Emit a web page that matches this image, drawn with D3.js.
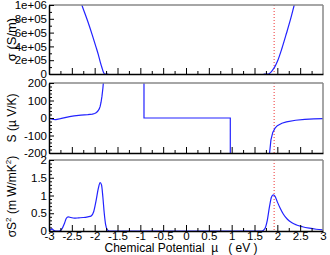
<!DOCTYPE html>
<html>
<head>
<meta charset="utf-8">
<script src="https://cdn.jsdelivr.net/npm/d3@7"></script>
<style>
  body { margin: 0; background: #fff; }
  svg text { font-family: "Liberation Sans", Arial, sans-serif; }
</style>
</head>
<body>
<div id="chart"></div>
<script>
// chemical potential positions (eV) for each panel curve
var sigmaLeftMu  = [-2.40, -2.28, -2.15, -2.05, -1.97, -1.92, -1.88, -1.84, -1.81, -1.78, -1.70];
var sigmaLeftVal = [1.25e6, 1.0e6, 7.6e5, 5.6e5, 3.9e5, 2.8e5, 1.8e5, 9e4, 3e4, 0, 0];
var sigmaRightMu  = [1.70, 1.80, 1.85, 1.90, 1.95, 2.00, 2.10, 2.20, 2.30, 2.37, 2.45];
var sigmaRightVal = [0, 0, 2e4, 6e4, 1.1e5, 1.8e5, 3.7e5, 5.9e5, 8.2e5, 1.0e6, 1.2e6];

var seebeckMu  = [-3.00, -2.95, -2.90, -2.85, -2.75, -2.65, -2.55, -2.45, -2.30, -2.15, -2.05, -2.00,
                  -1.96, -1.93, -1.90, -1.88, -1.86, -1.84, -1.82, -1.80, -1.50, -0.92, -0.92,
                  0.97, 0.97, 1.70, 1.80, 1.83, 1.86, 1.90, 1.95, 2.00, 2.10, 2.20, 2.40, 2.60, 2.80, 3.00];
var seebeckVal = [0, -5, -8, -9, -4, 2, 8, 12, 16, 19, 22, 26,
                  32, 40, 52, 66, 90, 125, 170, 230, 1500, 2500, 0,
                  0, -2500, -600, -300, -200, -125, -82, -58, -44, -30, -22, -13, -8, -5, -3];

var powerMu  = [-3.00, -2.97, -2.93, -2.90, -2.85, -2.78, -2.72, -2.66, -2.62, -2.58, -2.52, -2.45, -2.35,
                -2.25, -2.15, -2.08, -2.02, -1.97, -1.92, -1.88, -1.85, -1.82, -1.79, -1.76, -1.72, -1.68,
                1.60, 1.66, 1.72, 1.78, 1.83, 1.87, 1.91, 1.95, 2.00, 2.06, 2.13, 2.22, 2.32, 2.42, 2.55,
                2.70, 2.85, 3.00];
var powerVal = [0.00, 0.03, 0.06, 0.02, 0.00, 0.00, 0.05, 0.22, 0.36, 0.40, 0.38, 0.36, 0.37,
                0.38, 0.40, 0.42, 0.55, 0.85, 1.20, 1.36, 1.30, 0.95, 0.50, 0.18, 0.03, 0.00,
                0.00, 0.00, 0.05, 0.30, 0.70, 0.95, 1.02, 0.98, 0.82, 0.65, 0.48, 0.33, 0.23, 0.17, 0.12,
                0.08, 0.05, 0.03];

var fermiMu = 1.93;
var xTicks = [-3, -2.5, -2, -1.5, -1, -0.5, 0, 0.5, 1, 1.5, 2, 2.5, 3];
var sigmaTicks = [0, 2e5, 4e5, 6e5, 8e5, 1e6];
var seebeckTicks = [-200, -100, 0, 100, 200];
var powerTicks = [0, 0.5, 1, 1.5, 2];

var W = 330, H = 255;
var svg = d3.select("#chart").append("svg")
    .attr("width", W).attr("height", H);

var x = d3.scaleLinear().domain([-3, 3]).range([49, 323]);

var panels = [
  { id: "p1", top: 5, bottom: 74, domain: [0, 1e6], ticks: sigmaTicks, minor: 1e5,
    fmt: function(d) { return d === 0 ? "0" : d3.format(".0e")(d).replace("e+", "e+0"); },
    curves: [[sigmaLeftMu, sigmaLeftVal], [sigmaRightMu, sigmaRightVal]],
    label: "σ (S/m)" },
  { id: "p2", top: 83, bottom: 153, domain: [-200, 200], ticks: seebeckTicks, minor: 20,
    fmt: function(d) { return String(d); },
    curves: [[seebeckMu, seebeckVal]],
    label: "S (µ V/K)" },
  { id: "p3", top: 160, bottom: 231, domain: [0, 2], ticks: powerTicks, minor: 0.1,
    fmt: function(d) { return String(d); },
    curves: [[powerMu, powerVal]],
    label: "σS² (m W/mK²)" }
];

panels.forEach(function(p, i) {
  var y = d3.scaleLinear().domain(p.domain).range([p.bottom, p.top]);
  var g = svg.append("g");

  g.append("clipPath").attr("id", "clip" + i)
    .append("rect")
      .attr("x", x(-3)).attr("y", p.top)
      .attr("width", x(3) - x(-3)).attr("height", p.bottom - p.top);

  // dotted fermi line
  g.append("line")
    .attr("x1", x(fermiMu)).attr("x2", x(fermiMu))
    .attr("y1", p.top).attr("y2", p.bottom)
    .attr("stroke", "#e33").attr("stroke-width", 1)
    .attr("stroke-dasharray", "1,2");

  var line = d3.line()
    .x(function(d) { return x(d[0]); })
    .y(function(d) { return y(d[1]); })
    .curve(i === 1 ? d3.curveLinear : d3.curveMonotoneX);

  p.curves.forEach(function(c) {
    var pts = c[0].map(function(m, k) { return [m, c[1][k]]; });
    g.append("path")
      .datum(pts)
      .attr("clip-path", "url(#clip" + i + ")")
      .attr("fill", "none")
      .attr("stroke", "#2222ff")
      .attr("stroke-width", 1.2)
      .attr("d", line);
  });

  // frame: top and right in grey
  g.append("line").attr("x1", x(-3)).attr("x2", x(3))
    .attr("y1", p.top).attr("y2", p.top)
    .attr("stroke", "#888").attr("stroke-width", 1.5);
  g.append("line").attr("x1", x(3)).attr("x2", x(3))
    .attr("y1", p.top).attr("y2", p.bottom)
    .attr("stroke", "#888").attr("stroke-width", 1.5);

  // bottom axis, ticks pointing inward
  var xMinor = d3.range(-3, 3.001, 0.25);
  var xa = g.append("g").attr("transform", "translate(0," + p.bottom + ")")
    .call(d3.axisBottom(x).tickValues(xMinor).tickSizeInner(-3).tickSizeOuter(0).tickFormat(""));
  xa.selectAll(".tick line").attr("y2", function(d) {
    return Math.abs(d * 2 - Math.round(d * 2)) < 1e-6 ? -6 : -3;
  });
  xa.select(".domain").attr("stroke", "#000").attr("stroke-width", 1.5);
  xa.selectAll(".tick").filter(function(d) { return Math.abs(d) > 2.99; }).remove();

  if (i === 2) {
    var xl = g.append("g").attr("transform", "translate(0," + p.bottom + ")")
      .call(d3.axisBottom(x).tickValues(xTicks).tickSize(0).tickPadding(1)
        .tickFormat(function(d) { return String(d); }));
    xl.select(".domain").remove();
    xl.selectAll("text").attr("font-size", 11.5).attr("fill", "#000")
      .attr("font-family", "Liberation Sans, Arial, sans-serif");
  }

  // left axis
  var yMinor = d3.range(p.domain[0], p.domain[1] + p.minor / 2, p.minor);
  var ya = g.append("g").attr("transform", "translate(" + x(-3) + ",0)")
    .call(d3.axisLeft(y).tickValues(yMinor).tickSize(0).tickFormat(""));
  ya.select(".domain").attr("stroke", "#000").attr("stroke-width", 1.5);
  ya.selectAll(".tick line").attr("x2", function(d) {
    var isMajor = p.ticks.some(function(t) { return Math.abs(t - d) < p.minor / 100; });
    return isMajor ? 5 : 3;
  }).attr("stroke", "#000");

  var yl = g.append("g").attr("transform", "translate(" + x(-3) + ",0)")
    .call(d3.axisLeft(y).tickValues(p.ticks).tickSize(0).tickPadding(2).tickFormat(p.fmt));
  yl.select(".domain").remove();
  yl.selectAll("text").attr("font-size", 11.5).attr("fill", "#000")
    .attr("font-family", "Liberation Sans, Arial, sans-serif");

  // y title
  var tx = svg.append("text")
    .attr("transform", "translate(16," + ((p.top + p.bottom) / 2 + (i === 2 ? 1 : 0)) + ") rotate(-90)")
    .attr("text-anchor", "middle")
    .attr("font-size", i === 0 ? 13 : 12);
  if (i === 2) {
    tx.append("tspan").text("σS");
    tx.append("tspan").attr("font-size", 8).attr("dy", -5).text("2");
    tx.append("tspan").attr("dy", 5).text("\u00a0(m W/mK");
    tx.append("tspan").attr("font-size", 8).attr("dy", -5).text("2");
    tx.append("tspan").attr("dy", 5).text(")");
  } else {
    tx.text(p.label.replace(/ /g, "\u00a0"));
  }
});

svg.append("text")
  .attr("x", 181).attr("y", 252)
  .attr("text-anchor", "middle")
  .attr("font-size", 12)
  .text("Chemical Potential\u00a0\u00a0\u00b5\u00a0\u00a0\u00a0(\u00a0eV\u00a0)");
</script>
</body>
</html>
